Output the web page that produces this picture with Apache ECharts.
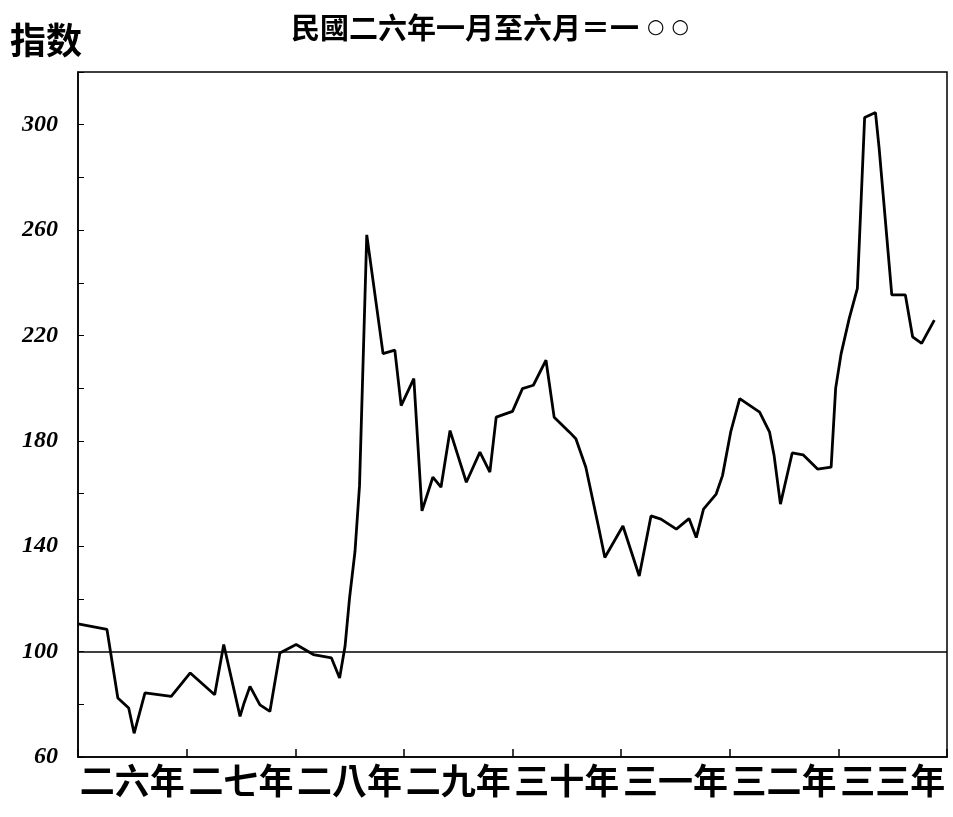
<!DOCTYPE html>
<html>
<head>
<meta charset="utf-8">
<script src="https://cdn.jsdelivr.net/npm/echarts@6/dist/echarts.min.js"></script>
<style>
html,body{margin:0;padding:0;background:#fff;}
#chart{width:953px;height:817px;}
</style>
</head>
<body>
<div id="chart"></div>
<script>
var titleMain = '民國二六年一月至六月＝一';
var titleTail = '○ ○';
var yAxisName = '指数';
var yearLabels = ['二六年','二七年','二八年','二九年','三十年','三一年','三二年','三三年'];
// months counted from Jan of 民國二六年
var months = [0,3.2,4.4,5.6,6.2,7.4,10.3,12.4,15.1,16.1,17.9,18.3,19,20.1,21.2,22.3,24.1,26,28,28.9,29.5,30,30.6,31.1,31.9,33.7,35,35.7,37.1,38,39.2,40.1,41.1,42.9,44.4,45.5,46.2,48,49.1,50.3,51.7,52.6,54.3,55,56.1,57.6,58.2,60.2,62,63.3,64.4,66.1,67.5,68.3,69.1,70.5,71.2,72.1,73.1,75.3,76.4,76.9,77.6,78.9,80.1,81.7,83.2,83.7,84.3,85.2,86.1,86.9,88.1,88.5,89.9,91.4,92.2,93.2,94.6];
var values = [110.5,108.4,82.4,78.6,69,84.3,83,91.9,83.6,102.7,75.4,80,86.8,79.8,77.3,99.5,102.7,98.9,97.6,90,102,120.4,138,163,258.2,213.1,214.4,193.4,203.6,153.4,166.2,162.4,183.9,164.3,175.7,168.1,189,191.2,199.8,201.1,210.6,189,183.3,180.8,170,145.8,135.7,147.7,128.7,151.5,150.3,146.5,150.5,143.3,154.1,159.8,166.8,183.3,196,190.9,183.3,174.4,156,175.4,174.7,169.3,170,200,213,226.5,237.9,302.7,304.6,291.2,235.4,235.4,219.5,217,225.8];
var baseLine = 100;

var pts = months.map(function(m,i){return [m, values[i]];});
var chart = echarts.init(document.getElementById('chart'));
chart.setOption({
  backgroundColor:'#fff',
  animation:false,
  title:{text:'{a|'+titleMain+'}{b|'+titleTail+'}',left:485,textAlign:'center',top:8,
    textStyle:{rich:{
      a:{fontFamily:'Noto Sans CJK TC',fontSize:29,fontWeight:'bold',color:'#000'},
      b:{fontFamily:'DejaVu Sans',fontSize:20,fontStyle:'italic',color:'#000',padding:[0,0,0,8]}}}},
  graphic:[{type:'text',left:10,top:22,style:{text:yAxisName,fontFamily:'Noto Sans CJK TC',fontSize:36,fontWeight:'bold',fill:'#000'}}],
  grid:{left:78,right:6,top:72,bottom:60,show:true,borderColor:'#000',borderWidth:1.5},
  xAxis:[
    {type:'value',min:0,max:96,interval:12,show:false},
    {type:'category',data:yearLabels,position:'bottom',boundaryGap:true,
      axisLine:{lineStyle:{color:'#000',width:1.5}},
      axisTick:{show:true,inside:true,length:8,lineStyle:{color:'#000',width:1.5}},
      axisLabel:{color:'#000',fontSize:35,fontFamily:'Noto Sans CJK TC',fontWeight:'bold',margin:6,interval:0},
      splitLine:{show:false}}
  ],
  yAxis:{type:'value',min:60,max:320,interval:20,
    axisLine:{show:true,lineStyle:{color:'#000',width:1.5}},
    axisTick:{show:true,inside:true,length:6,lineStyle:{color:'#000'}},
    splitLine:{show:false},
    axisLabel:{color:'#000',fontSize:24,fontStyle:'italic',fontWeight:'bold',fontFamily:'Liberation Serif',margin:20,
      formatter:function(v){return (v%40===20 && v<=300)?String(v):'';}}},
  series:[{type:'line',xAxisIndex:0,data:pts,symbol:'none',smooth:false,
    lineStyle:{color:'#000',width:2.8},
    markLine:{silent:true,symbol:'none',label:{show:false},
      lineStyle:{color:'#000',width:1.5,type:'solid'},data:[{yAxis:baseLine}]}}]
});
</script>
</body>
</html>
